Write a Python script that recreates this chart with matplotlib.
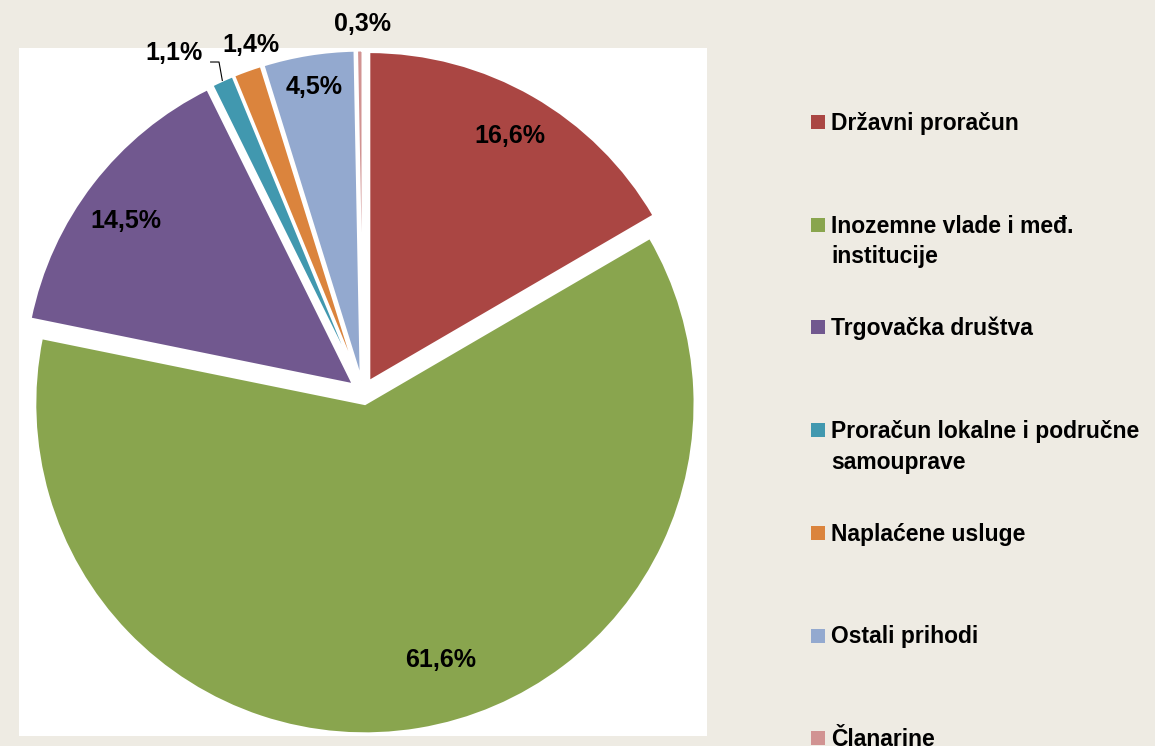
import numpy as np
import matplotlib.pyplot as plt
from matplotlib.patches import Rectangle

# data
labels = ["Državni proračun", "Inozemne vlade i međ.\ninstitucije", "Trgovačka društva",
          "Proračun lokalne i područne\nsamouprave", "Naplaćene usluge", "Ostali prihodi", "Članarine"]
shares = [16.6, 61.6, 14.5, 1.1, 1.4, 4.5, 0.3]
colors = ["#AA4643", "#89A54E", "#71588F", "#4198AF", "#DB843D", "#93A9CF", "#D19392"]

# label placement (radius factor, angle tweak in degrees)
lab_r = [0.86, 0.81, 0.85, 1.14, 1.07, 0.90, 1.08]
lab_da = [0, 7, 2, 5, -2, 0, -0.5]

W, H = 1155, 746
bg = "#EEEBE3"
plt.rcParams['font.family'] = ['Liberation Sans', 'DejaVu Sans']

fig = plt.figure(figsize=(W / 100, H / 100), dpi=100, facecolor=bg)
ax = fig.add_axes([19 / W, 10 / H, 688 / W, 688 / H])

expl = 0.036
wedges, _ = ax.pie(shares, colors=colors, startangle=90, counterclock=False,
                   explode=[expl] * len(shares), radius=1,
                   wedgeprops=dict(edgecolor="white", linewidth=2))
# pie() switches the frame off; bring the white plot area back
ax.set_frame_on(True)
ax.set_facecolor("white")
for s in ax.spines.values():
    s.set_visible(False)
ax.set_xticks([])
ax.set_yticks([])
lim = 344 / 330
ax.set_xlim(-lim, lim)
ax.set_ylim(-lim, lim)
ax.set_aspect('equal')

for i, w in enumerate(wedges):
    mid = (w.theta1 + w.theta2) / 2
    cx, cy = w.center
    a = np.deg2rad(mid + lab_da[i])
    tx = cx + lab_r[i] * np.cos(a)
    ty = cy + lab_r[i] * np.sin(a)
    txt = ("%.1f%%" % shares[i]).replace(".", ",")
    ax.text(tx, ty, txt, ha="center", va="center", fontsize=18, fontweight="bold",
            color="black", clip_on=False)
    if i == 3:
        # leader line for the small teal slice
        am = np.deg2rad(mid)
        ex = cx + np.cos(am)
        ey = cy + np.sin(am)
        ax.plot([tx + 0.111, ex - 0.01, ex], [ty - 0.027, ty - 0.027, ey],
                color="black", lw=0.8, clip_on=False)

# legend drawn manually with fixed pitch like the original
pitch = 102.7
for i, lab in enumerate(labels):
    base = 130 + i * pitch
    fig.patches.append(Rectangle((811 / W, (H - base + 1) / H), 14 / W, 14 / H,
                                 transform=fig.transFigure, facecolor=colors[i],
                                 edgecolor="none"))
    for j, line in enumerate(lab.split("\n")):
        fig.text(831 / W, (H - base - j * 30.5) / H, line, ha="left", va="baseline",
                 fontsize=16.5, fontweight="bold", color="black")

fig.savefig("out.png", dpi=100, facecolor=bg)
